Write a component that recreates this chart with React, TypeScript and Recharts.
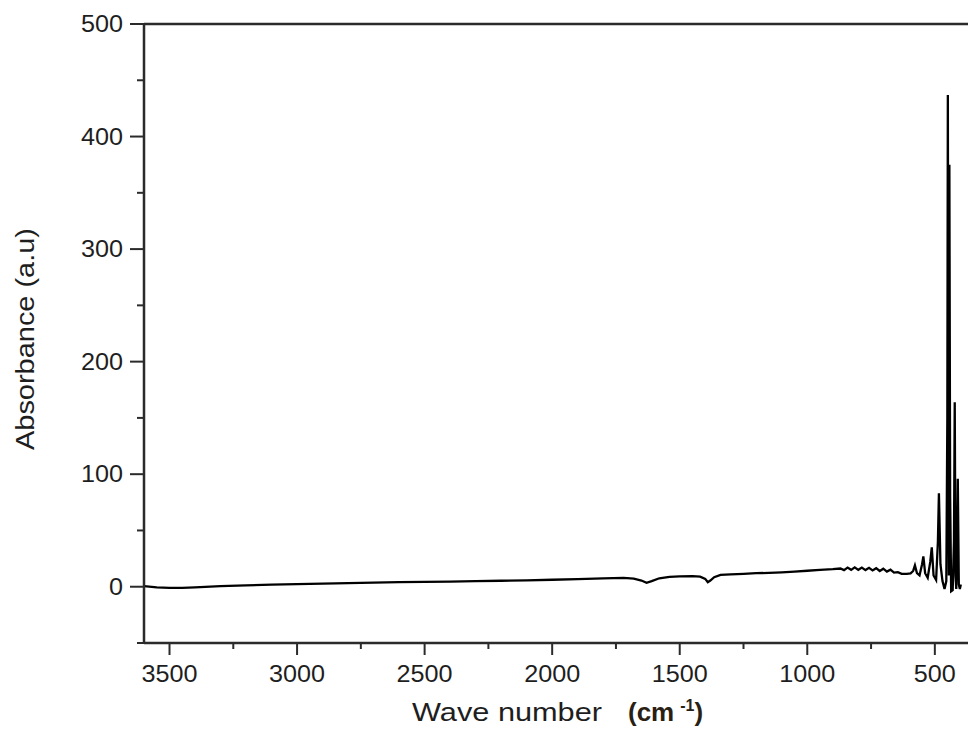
import { LineChart, Line, XAxis, YAxis, ReferenceLine } from 'recharts'

// spectrum (wavenumber in cm-1, absorbance in a.u)
const wavenumber = [
  3600, 3550, 3500, 3450, 3400, 3300, 3200, 3100, 3000, 2900, 2800, 2700, 2600, 2500,
  2400, 2300, 2200, 2100, 2000, 1900, 1800, 1720, 1680, 1650, 1630, 1610, 1580, 1540,
  1500, 1450, 1420, 1400, 1390, 1380, 1365, 1340, 1300, 1250, 1200, 1150, 1100, 1050,
  1000, 950, 900, 870, 856, 842, 828, 814, 800, 786, 772, 758, 744, 730, 716, 702, 688,
  674, 660, 645, 630, 610, 595, 585, 578, 570, 560, 550, 545, 538, 528, 518, 512, 505,
  495, 488, 484, 478, 470, 462, 455, 451, 449, 447, 445, 443, 440, 436, 430, 425, 422,
  419, 416, 413, 410, 406, 402, 398,
]
const absorbance = [
  0.5, -0.5, -1, -1, -0.5, 0.5, 1.2, 1.8, 2.3, 2.8, 3.2, 3.6, 4.0, 4.3,
  4.6, 5.0, 5.3, 5.7, 6.2, 6.8, 7.4, 7.8, 7.2, 5.5, 3.5, 5.0, 7.5, 8.8,
  9.2, 9.5, 9.0, 7.0, 4.0, 5.5, 8.5, 10.5, 11.0, 11.5, 12.0, 12.3, 12.8, 13.5,
  14.2, 15.0, 15.6, 16.2, 14.8, 17.0, 15.0, 17.2, 15.0, 17.0, 14.8, 16.8, 14.5, 16.5, 14.0, 16.0, 13.5,
  15.2, 12.5, 13.0, 11.5, 11.5, 11.8, 14, 19, 12, 10, 20, 27, 12, 8, 22, 35, 10,
  6, 40, 83, 20, 5, -2, 5, 150, 437, 150, 10, 375, 80, -4, -3, 40, 164,
  10, -2, 30, 96, 2, -2, 2,
]

const xMajorTicks = [3500, 3000, 2500, 2000, 1500, 1000, 500]
const xMinorTicks = [3250, 2750, 2250, 1750, 1250, 750]
const yMajorTicks = [0, 100, 200, 300, 400, 500]
const yMinorTicks = [-50, 50, 150, 250, 350, 450]

const data = wavenumber.map((w, i) => ({ w, a: absorbance[i] }))

const INK = '#2b2b2b'
const FONT = '"Liberation Sans", Arial, sans-serif'

function XTick({ x, y, payload }: any) {
  const major = xMajorTicks.includes(payload.value)
  const label = String(payload.value)
  return (
    <g>
      <line x1={x} x2={x} y1={y} y2={y + (major ? 12 : 6)} stroke={INK} strokeWidth={2} />
      {major && (
        <text x={x} y={y + 39} textAnchor="middle" fontFamily={FONT} fontSize={23} fill="#1e1e1e"
          textLength={label.length * 14} lengthAdjust="spacingAndGlyphs">
          {label}
        </text>
      )}
    </g>
  )
}

function YTick({ x, y, payload }: any) {
  const major = yMajorTicks.includes(payload.value)
  const label = String(payload.value)
  return (
    <g>
      <line x1={x - (major ? 14 : 7)} x2={x} y1={y} y2={y} stroke={INK} strokeWidth={2} />
      {major && (
        <text x={x - 21} y={y} dy="0.36em" textAnchor="end" fontFamily={FONT} fontSize={23} fill="#1e1e1e"
          textLength={label.length * 14} lengthAdjust="spacingAndGlyphs">
          {label}
        </text>
      )}
    </g>
  )
}

function YTitle() {
  return (
    <text transform="translate(34,339) rotate(-90)" textAnchor="middle" fontFamily={FONT}
      fontSize={25} fill="#1e1e1e" textLength={222} lengthAdjust="spacingAndGlyphs">
      Absorbance (a.u)
    </text>
  )
}

function XTitle() {
  return (
    <g fontFamily={FONT} fill="#1e1e1e">
      <text x={412} y={721} fontSize={25} textLength={190} lengthAdjust="spacingAndGlyphs">
        Wave number
      </text>
      <text x={628} y={721} fontSize={26} fontWeight="bold" fill="#2a1f14">
        (cm
        <tspan dx={6} dy={-10} fontSize={16}>-1</tspan>
        <tspan dy={10}>)</tspan>
      </text>
    </g>
  )
}

export default function App() {
  return (
    <div style={{ position: 'absolute', left: 0, top: 0, width: 968, height: 731, background: '#fff' }}>
      <LineChart width={968} height={731} data={data} margin={{ top: 24, right: 0, bottom: 0, left: 0 }}>
        <XAxis
          dataKey="w"
          type="number"
          domain={[370, 3600]}
          reversed
          allowDataOverflow
          ticks={[...xMajorTicks, ...xMinorTicks]}
          interval={0}
          height={88}
          tickSize={0}
          tickMargin={0}
          tickLine={false}
          axisLine={{ stroke: INK, strokeWidth: 2.5 }}
          tick={<XTick />}
          label={<XTitle />}
        />
        <YAxis
          type="number"
          domain={[-50, 500]}
          allowDataOverflow
          ticks={[...yMinorTicks, ...yMajorTicks]}
          interval={0}
          width={144}
          tickSize={0}
          tickMargin={0}
          tickLine={false}
          axisLine={{ stroke: INK, strokeWidth: 2.5 }}
          tick={<YTick />}
          label={<YTitle />}
        />
        <ReferenceLine y={500} stroke={INK} strokeWidth={2.5} />
        <Line
          type="linear"
          dataKey="a"
          stroke="#000"
          strokeWidth={2.3}
          dot={false}
          isAnimationActive={false}
        />
      </LineChart>
    </div>
  )
}
